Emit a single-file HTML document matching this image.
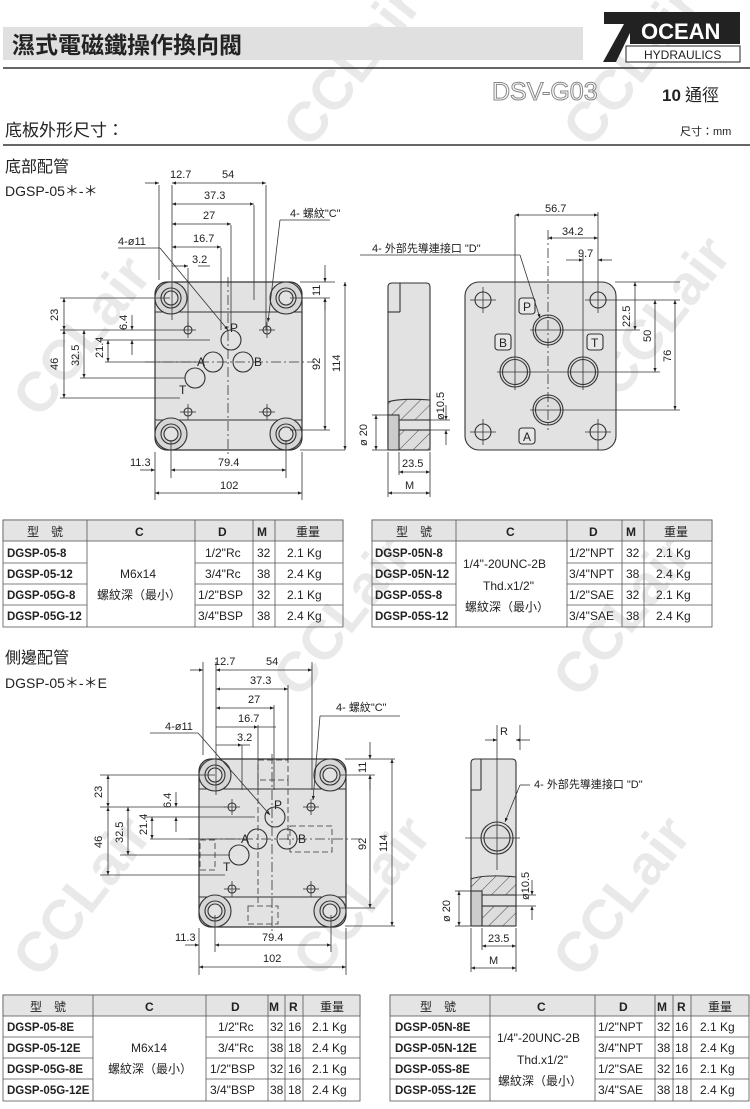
<!DOCTYPE html>
<html><head><meta charset="utf-8">
<style>
html,body{margin:0;padding:0;background:#fff;}
svg{display:block;}
text{font-family:"Liberation Sans","Noto Sans CJK TC",sans-serif;fill:#222;}
.t{font-size:12px;}
.d{font-size:11px;}
</style></head><body>
<svg width="750" height="1109" viewBox="0 0 750 1109" xmlns="http://www.w3.org/2000/svg">
<defs>
<marker id="ar" viewBox="0 0 10 10" refX="10" refY="5" markerWidth="7" markerHeight="5" orient="auto-start-reverse"><path d="M0,1 L10,5 L0,9 z" fill="#222"/></marker>
<pattern id="hat" width="10" height="10" patternUnits="userSpaceOnUse" patternTransform="rotate(45)"><rect width="10" height="10" fill="#ddd"/><line x1="0" y1="0" x2="0" y2="10" stroke="#444" stroke-width="1"/></pattern>
<g id="plate">
  <rect x="0" y="0" width="147" height="168" rx="12" fill="#e2e2e2" stroke="#333" stroke-width="1.2"/>
  <line x1="0" y1="30" x2="147" y2="30" stroke="#333"/>
  <line x1="0" y1="138" x2="147" y2="138" stroke="#333"/>
  <g fill="#d6d6d6" stroke="#333" stroke-width="1.1">
    <circle cx="16" cy="16" r="16"/><circle cx="131" cy="16" r="16"/><circle cx="16" cy="152" r="16"/><circle cx="131" cy="152" r="16"/>
    <circle cx="16" cy="16" r="10"/><circle cx="131" cy="16" r="10"/><circle cx="16" cy="152" r="10"/><circle cx="131" cy="152" r="10"/>
    <circle cx="16" cy="16" r="7" fill="#e2e2e2"/><circle cx="131" cy="16" r="7" fill="#e2e2e2"/><circle cx="16" cy="152" r="7" fill="#e2e2e2"/><circle cx="131" cy="152" r="7" fill="#e2e2e2"/>
  </g>
  <g fill="none" stroke="#333" stroke-width="1.1">
    <circle cx="76" cy="58" r="10"/><circle cx="58" cy="80" r="10"/><circle cx="88" cy="80" r="10"/><circle cx="40" cy="96" r="10"/>
    <circle cx="33" cy="48" r="4"/><circle cx="112" cy="48" r="4"/><circle cx="33" cy="130" r="4"/><circle cx="112" cy="130" r="4"/>
  </g>
  <g stroke="#333" stroke-width="0.8">
    <line x1="25" y1="48" x2="41" y2="48"/><line x1="33" y1="40" x2="33" y2="56"/>
    <line x1="104" y1="48" x2="120" y2="48"/><line x1="112" y1="40" x2="112" y2="56"/>
    <line x1="25" y1="130" x2="41" y2="130"/><line x1="33" y1="122" x2="33" y2="138"/>
    <line x1="104" y1="130" x2="120" y2="130"/><line x1="112" y1="122" x2="112" y2="138"/>
    <line x1="73" y1="-5" x2="73" y2="175" stroke-dasharray="10,3,2,3"/>
    <line x1="-10" y1="80" x2="160" y2="80" stroke-dasharray="10,3,2,3"/>
  </g>
  <text x="75" y="50" class="t">P</text><text x="42" y="84" class="t">A</text><text x="99" y="84" class="t">B</text><text x="24" y="112" class="t">T</text>
</g>
</defs>

<!-- watermarks -->
<g font-size="56" font-weight="bold" font-family="Liberation Sans,sans-serif">
<text transform="translate(40,420) rotate(-52)" style="fill:#e9e9e9">CCLair</text>
<text transform="translate(310,150) rotate(-52)" style="fill:#e9e9e9">CCLair</text>
<text transform="translate(590,150) rotate(-52)" style="fill:#e9e9e9">CCLair</text>
<text transform="translate(620,400) rotate(-52)" style="fill:#e9e9e9">CCLair</text>
<text transform="translate(300,700) rotate(-52)" style="fill:#e9e9e9">CCLair</text>
<text transform="translate(40,980) rotate(-52)" style="fill:#e9e9e9">CCLair</text>
<text transform="translate(580,700) rotate(-52)" style="fill:#e9e9e9">CCLair</text>
<text transform="translate(580,980) rotate(-52)" style="fill:#e9e9e9">CCLair</text>
<text transform="translate(320,980) rotate(-52)" style="fill:#e9e9e9">CCLair</text>
</g>

<!-- header -->
<rect x="3" y="27" width="580" height="33" fill="#e0e0e0"/>
<text x="12" y="53" font-size="23" font-weight="bold" style="font-family:'Noto Sans CJK TC',sans-serif">濕式電磁鐵操作換向閥</text>
<line x1="3" y1="68" x2="750" y2="68" stroke="#333" stroke-width="1.5"/>
<polygon points="604,12 640,12 616,62 603,62 624,24 604,24" fill="#222"/>
<rect x="630" y="12" width="110" height="32" fill="#222"/>
<text x="641" y="39" font-size="22" font-weight="bold" style="fill:#fff">OCEAN</text>
<rect x="626" y="46" width="114" height="16" fill="#fff" stroke="#222"/>
<text x="644" y="59" font-size="12">HYDRAULICS</text>
<text x="492" y="100" font-size="25" style="fill:#fff;stroke:#888;stroke-width:1">DSV-G03</text>
<text x="662" y="101" font-size="17" font-weight="bold">10</text>
<text x="685" y="101" font-size="17">通徑</text>
<text x="5" y="136" font-size="17">底板外形尺寸：</text>
<text x="680" y="135" font-size="11">尺寸：mm</text>
<line x1="3" y1="145" x2="750" y2="145" stroke="#333" stroke-width="1.5"/>
<text x="5" y="172" font-size="16">底部配管</text>
<text x="5" y="196" font-size="14">DGSP-05＊-＊</text>

<!-- drawing 1 -->
<use href="#plate" x="155" y="282"/>
<g stroke="#333" stroke-width="0.8" fill="none">
  <line x1="159" y1="185" x2="159" y2="280"/><line x1="172" y1="185" x2="172" y2="320"/>
  <line x1="266" y1="185" x2="266" y2="330"/><line x1="254" y1="205" x2="254" y2="300"/>
  <line x1="231" y1="225" x2="231" y2="330"/><line x1="221" y1="248" x2="221" y2="330"/><line x1="188" y1="268" x2="188" y2="330"/>
  <line x1="145" y1="183" x2="159" y2="183" marker-end="url(#ar)"/><line x1="172" y1="183" x2="266" y2="183" marker-start="url(#ar)" marker-end="url(#ar)"/>
  <line x1="172" y1="204" x2="254" y2="204" marker-start="url(#ar)" marker-end="url(#ar)"/>
  <line x1="172" y1="224" x2="231" y2="224" marker-start="url(#ar)" marker-end="url(#ar)"/>
  <line x1="172" y1="247" x2="221" y2="247" marker-start="url(#ar)" marker-end="url(#ar)"/>
  <line x1="172" y1="266" x2="188" y2="266" marker-end="url(#ar)"/><line x1="210" y1="266" x2="198" y2="266"/>
  <line x1="118" y1="248" x2="160" y2="248"/><line x1="160" y1="248" x2="228" y2="330" marker-end="url(#ar)"/>
  <line x1="280" y1="220" x2="330" y2="220"/><line x1="280" y1="220" x2="268" y2="322" marker-end="url(#ar)"/>
  <line x1="300" y1="282" x2="335" y2="282"/><line x1="300" y1="450" x2="345" y2="450"/><line x1="290" y1="298" x2="330" y2="298"/><line x1="290" y1="430" x2="330" y2="430"/>
  <line x1="325" y1="265" x2="325" y2="282" marker-end="url(#ar)"/><line x1="325" y1="310" x2="325" y2="298" marker-end="url(#ar)"/>
  <line x1="325" y1="298" x2="325" y2="430" marker-start="url(#ar)" marker-end="url(#ar)"/>
  <line x1="345" y1="282" x2="345" y2="450" marker-start="url(#ar)" marker-end="url(#ar)"/>
  <line x1="60" y1="298" x2="170" y2="298"/><line x1="60" y1="330" x2="180" y2="330"/><line x1="100" y1="340" x2="210" y2="340"/><line x1="105" y1="362" x2="200" y2="362"/><line x1="80" y1="378" x2="185" y2="378"/><line x1="60" y1="398" x2="180" y2="398"/>
  <line x1="64" y1="298" x2="64" y2="330" marker-start="url(#ar)" marker-end="url(#ar)"/>
  <line x1="64" y1="330" x2="64" y2="398" marker-start="url(#ar)" marker-end="url(#ar)"/>
  <line x1="84" y1="330" x2="84" y2="378" marker-start="url(#ar)" marker-end="url(#ar)"/>
  <line x1="108" y1="340" x2="108" y2="362" marker-start="url(#ar)" marker-end="url(#ar)"/>
  <line x1="132" y1="315" x2="132" y2="330" marker-end="url(#ar)"/><line x1="132" y1="355" x2="132" y2="340" marker-end="url(#ar)"/>
  <line x1="155" y1="452" x2="155" y2="500"/><line x1="302" y1="452" x2="302" y2="500"/><line x1="171" y1="440" x2="171" y2="478"/><line x1="286" y1="440" x2="286" y2="478"/>
  <line x1="140" y1="470" x2="155" y2="470" marker-end="url(#ar)"/><line x1="171" y1="470" x2="286" y2="470" marker-start="url(#ar)" marker-end="url(#ar)"/>
  <line x1="155" y1="493" x2="302" y2="493" marker-start="url(#ar)" marker-end="url(#ar)"/>
</g>
<text x="170" y="178" class="d">12.7</text><text x="222" y="178" class="d">54</text>
<text x="204" y="199" class="d">37.3</text><text x="203" y="219" class="d">27</text><text x="193" y="242" class="d">16.7</text><text x="192" y="263" class="d">3.2</text>
<text x="118" y="245" class="d">4-ø11</text><text x="290" y="217" class="d">4- 螺紋"C"</text>
<text transform="translate(320,296) rotate(-90)" class="d">11</text>
<text transform="translate(320,370) rotate(-90)" class="d">92</text>
<text transform="translate(340,372) rotate(-90)" class="d">114</text>
<text transform="translate(58,321) rotate(-90)" class="d">23</text>
<text transform="translate(58,370) rotate(-90)" class="d">46</text>
<text transform="translate(79,366) rotate(-90)" class="d">32.5</text>
<text transform="translate(103,358) rotate(-90)" class="d">21.4</text>
<text transform="translate(127,330) rotate(-90)" class="d">6.4</text>
<text x="130" y="466" class="d">11.3</text><text x="218" y="466" class="d">79.4</text><text x="220" y="489" class="d">102</text>

<!-- side view 1 -->
<g stroke="#333" stroke-width="1.1">
  <path d="M392,283 L426,283 Q430,283 430,287 L430,446 Q430,450 426,450 L392,450 Q388,450 388,446 L388,287 Q388,283 392,283 Z" fill="#e2e2e2"/>
  <line x1="400" y1="283" x2="400" y2="312"/><line x1="388" y1="312" x2="400" y2="312"/>
  <path d="M388,402 Q400,398 430,400 L430,420 L399,420 L399,450 L388,450 Z" fill="url(#hat)"/>
  <rect x="399" y="430" width="31" height="20" fill="url(#hat)"/>
  <rect x="399" y="420" width="31" height="10" fill="#e2e2e2"/>
  <rect x="388" y="415" width="11" height="35" fill="#ccc"/>
</g>
<g stroke="#333" stroke-width="0.8">
  <line x1="372" y1="415" x2="388" y2="415"/><line x1="372" y1="450" x2="388" y2="450"/>
  <line x1="376" y1="415" x2="376" y2="450" marker-start="url(#ar)" marker-end="url(#ar)"/>
  <line x1="430" y1="420" x2="450" y2="420"/><line x1="430" y1="430" x2="450" y2="430"/>
  <line x1="446" y1="405" x2="446" y2="420" marker-end="url(#ar)"/><line x1="446" y1="445" x2="446" y2="430" marker-end="url(#ar)"/>
  <line x1="399" y1="452" x2="399" y2="475"/><line x1="388" y1="452" x2="388" y2="497"/><line x1="430" y1="452" x2="430" y2="497"/>
  <line x1="399" y1="472" x2="430" y2="472" marker-start="url(#ar)" marker-end="url(#ar)"/>
  <line x1="388" y1="493" x2="430" y2="493" marker-start="url(#ar)" marker-end="url(#ar)"/>
</g>
<text transform="translate(367,446) rotate(-90)" class="d">ø 20</text>
<text transform="translate(444,420) rotate(-90)" class="d">ø10.5</text>
<text x="402" y="467" class="d">23.5</text><text x="405" y="489" class="d">M</text>

<!-- right plate 1 -->
<g stroke="#333" stroke-width="1.1">
  <rect x="465" y="282" width="151" height="168" rx="14" fill="#e2e2e2"/>
  <g fill="#e2e2e2"><circle cx="483" cy="300" r="8"/><circle cx="598" cy="300" r="8"/><circle cx="483" cy="432" r="8"/><circle cx="598" cy="432" r="8"/></g>
  <g fill="#ddd"><circle cx="548" cy="330" r="15"/><circle cx="515" cy="372" r="15"/><circle cx="583" cy="372" r="15"/><circle cx="548" cy="410" r="15"/></g>
  <g fill="none"><circle cx="548" cy="330" r="12.5"/><circle cx="515" cy="372" r="12.5"/><circle cx="583" cy="372" r="12.5"/><circle cx="548" cy="410" r="12.5"/></g>
  <g fill="#e8e8e8"><rect x="519" y="298" width="16" height="16" rx="3"/><rect x="495" y="334" width="16" height="16" rx="3"/><rect x="587" y="334" width="16" height="16" rx="3"/><rect x="519" y="428" width="16" height="16" rx="3"/></g>
</g>
<text x="523" y="311" class="t">P</text><text x="499" y="347" class="t">B</text><text x="591" y="347" class="t">T</text><text x="523" y="441" class="t">A</text>
<g stroke="#333" stroke-width="0.8" fill="none">
  <line x1="470" y1="300" x2="496" y2="300"/><line x1="483" y1="287" x2="483" y2="313"/>
  <line x1="585" y1="300" x2="615" y2="300"/><line x1="598" y1="265" x2="598" y2="313"/>
  <line x1="470" y1="432" x2="496" y2="432"/><line x1="483" y1="419" x2="483" y2="445"/>
  <line x1="585" y1="432" x2="611" y2="432"/><line x1="598" y1="419" x2="598" y2="450"/>
  <line x1="530" y1="330" x2="640" y2="330"/><line x1="497" y1="372" x2="660" y2="372"/><line x1="530" y1="410" x2="680" y2="410"/>
  <line x1="548" y1="230" x2="548" y2="430" stroke-dasharray="10,3,2,3"/>
  <line x1="515" y1="215" x2="515" y2="390"/><line x1="583" y1="255" x2="583" y2="390"/>
  <line x1="515" y1="215" x2="598" y2="215" marker-start="url(#ar)" marker-end="url(#ar)"/>
  <line x1="548" y1="238" x2="598" y2="238" marker-start="url(#ar)" marker-end="url(#ar)"/>
  <line x1="566" y1="260" x2="583" y2="260" marker-end="url(#ar)"/><line x1="612" y1="260" x2="598" y2="260" marker-end="url(#ar)"/>
  <line x1="598" y1="212" x2="598" y2="265"/>
  <line x1="615" y1="282" x2="680" y2="282"/>
  <line x1="635" y1="282" x2="635" y2="330" marker-start="url(#ar)" marker-end="url(#ar)"/>
  <line x1="655" y1="300" x2="655" y2="372" marker-start="url(#ar)" marker-end="url(#ar)"/>
  <line x1="615" y1="300" x2="680" y2="300"/>
  <line x1="675" y1="300" x2="675" y2="410" marker-start="url(#ar)" marker-end="url(#ar)"/>
  <line x1="360" y1="255" x2="520" y2="255"/><line x1="520" y1="255" x2="540" y2="318" marker-end="url(#ar)"/>
</g>
<text x="545" y="212" class="d">56.7</text><text x="562" y="235" class="d">34.2</text><text x="578" y="257" class="d">9.7</text>
<text x="372" y="252" class="d">4- 外部先導連接口 "D"</text>
<text transform="translate(630,327) rotate(-90)" class="d">22.5</text>
<text transform="translate(651,342) rotate(-90)" class="d">50</text>
<text transform="translate(671,362) rotate(-90)" class="d">76</text>

<!-- table 1 -->
<g font-size="12">
<g stroke="#555" stroke-width="0.8" fill="none">
  <rect x="3" y="520" width="340" height="107"/>
  <rect x="3" y="520" width="340" height="21" fill="#e4e4e4"/>
  <line x1="87" y1="520" x2="87" y2="627"/><line x1="195" y1="520" x2="195" y2="627"/><line x1="253" y1="520" x2="253" y2="627"/><line x1="275" y1="520" x2="275" y2="627"/>
  <line x1="3" y1="563" x2="87" y2="563"/><line x1="3" y1="584" x2="87" y2="584"/><line x1="3" y1="605" x2="87" y2="605"/>
  <line x1="195" y1="563" x2="343" y2="563"/><line x1="195" y1="584" x2="343" y2="584"/><line x1="195" y1="605" x2="343" y2="605"/>
  <rect x="372" y="520" width="340" height="107"/>
  <rect x="372" y="520" width="340" height="21" fill="#e4e4e4"/>
  <line x1="456" y1="520" x2="456" y2="627"/><line x1="567" y1="520" x2="567" y2="627"/><line x1="622" y1="520" x2="622" y2="627"/><line x1="644" y1="520" x2="644" y2="627"/>
  <line x1="372" y1="563" x2="456" y2="563"/><line x1="372" y1="584" x2="456" y2="584"/><line x1="372" y1="605" x2="456" y2="605"/>
  <line x1="567" y1="563" x2="712" y2="563"/><line x1="567" y1="584" x2="712" y2="584"/><line x1="567" y1="605" x2="712" y2="605"/>
</g>
<text x="27" y="536">型　號</text><text x="135" y="536" font-weight="bold">C</text><text x="218" y="536" font-weight="bold">D</text><text x="257" y="536" font-weight="bold">M</text><text x="296" y="536">重量</text>
<g font-weight="bold" font-size="11.5"><text x="7" y="557">DGSP-05-8</text><text x="7" y="578">DGSP-05-12</text><text x="7" y="599">DGSP-05G-8</text><text x="7" y="620">DGSP-05G-12</text></g>
<text x="120" y="578">M6x14</text><text x="97" y="599">螺紋深（最小）</text>
<g><text x="205" y="557">1/2"Rc</text><text x="205" y="578">3/4"Rc</text><text x="198" y="599">1/2"BSP</text><text x="198" y="620">3/4"BSP</text>
<text x="257" y="557">32</text><text x="257" y="578">38</text><text x="257" y="599">32</text><text x="257" y="620">38</text>
<text x="287" y="557">2.1 Kg</text><text x="287" y="578">2.4 Kg</text><text x="287" y="599">2.1 Kg</text><text x="287" y="620">2.4 Kg</text></g>
<text x="396" y="536">型　號</text><text x="506" y="536" font-weight="bold">C</text><text x="589" y="536" font-weight="bold">D</text><text x="626" y="536" font-weight="bold">M</text><text x="664" y="536">重量</text>
<g font-weight="bold" font-size="11.5"><text x="375" y="557">DGSP-05N-8</text><text x="375" y="578">DGSP-05N-12</text><text x="375" y="599">DGSP-05S-8</text><text x="375" y="620">DGSP-05S-12</text></g>
<text x="463" y="568">1/4"-20UNC-2B</text><text x="483" y="590">Thd.x1/2"</text><text x="465" y="611">螺紋深（最小）</text>
<text x="569" y="557">1/2"NPT</text><text x="569" y="578">3/4"NPT</text><text x="569" y="599">1/2"SAE</text><text x="569" y="620">3/4"SAE</text>
<text x="626" y="557">32</text><text x="626" y="578">38</text><text x="626" y="599">32</text><text x="626" y="620">38</text>
<text x="656" y="557">2.1 Kg</text><text x="656" y="578">2.4 Kg</text><text x="656" y="599">2.1 Kg</text><text x="656" y="620">2.4 Kg</text>
</g>

<!-- section 2 -->
<text x="5" y="663" font-size="16">側邊配管</text>
<text x="5" y="688" font-size="14">DGSP-05＊-＊E</text>
<use href="#plate" x="199" y="759"/>
<g stroke="#333" stroke-width="0.8" fill="none" stroke-dasharray="6,3">
  <rect x="258" y="760" width="30" height="20"/><rect x="248" y="906" width="30" height="18"/>
  <rect x="200" y="840" width="15" height="30"/><rect x="290" y="826" width="42" height="26"/>
  <line x1="258" y1="780" x2="258" y2="906"/><line x1="288" y1="780" x2="288" y2="840"/>
</g>
<g stroke="#333" stroke-width="0.8" fill="none">
  <line x1="203" y1="662" x2="203" y2="755"/><line x1="216" y1="662" x2="216" y2="795"/>
  <line x1="312" y1="662" x2="312" y2="790"/><line x1="288" y1="685" x2="288" y2="760"/>
  <line x1="274" y1="705" x2="274" y2="790"/><line x1="258" y1="725" x2="258" y2="790"/><line x1="242" y1="745" x2="242" y2="790"/>
  <line x1="190" y1="670" x2="203" y2="670" marker-end="url(#ar)"/><line x1="216" y1="670" x2="312" y2="670" marker-start="url(#ar)" marker-end="url(#ar)"/>
  <line x1="216" y1="689" x2="288" y2="689" marker-start="url(#ar)" marker-end="url(#ar)"/>
  <line x1="216" y1="708" x2="274" y2="708" marker-start="url(#ar)" marker-end="url(#ar)"/>
  <line x1="216" y1="727" x2="258" y2="727" marker-end="url(#ar)"/><line x1="276" y1="727" x2="258" y2="727"/>
  <line x1="216" y1="745" x2="242" y2="745" marker-end="url(#ar)"/><line x1="250" y1="745" x2="242" y2="745"/>
  <line x1="150" y1="733" x2="198" y2="733"/><line x1="198" y1="733" x2="270" y2="815" marker-end="url(#ar)"/>
  <line x1="320" y1="716" x2="400" y2="716"/><line x1="320" y1="716" x2="313" y2="800" marker-end="url(#ar)"/>
  <line x1="345" y1="759" x2="395" y2="759"/><line x1="345" y1="926" x2="395" y2="926"/><line x1="340" y1="775" x2="375" y2="775"/><line x1="340" y1="908" x2="375" y2="908"/>
  <line x1="370" y1="742" x2="370" y2="759" marker-end="url(#ar)"/><line x1="370" y1="790" x2="370" y2="775" marker-end="url(#ar)"/>
  <line x1="370" y1="775" x2="370" y2="908" marker-start="url(#ar)" marker-end="url(#ar)"/>
  <line x1="392" y1="759" x2="392" y2="926" marker-start="url(#ar)" marker-end="url(#ar)"/>
  <line x1="100" y1="775" x2="215" y2="775"/><line x1="100" y1="807" x2="225" y2="807"/><line x1="145" y1="817" x2="255" y2="817"/><line x1="150" y1="839" x2="245" y2="839"/><line x1="120" y1="855" x2="230" y2="855"/><line x1="100" y1="875" x2="225" y2="875"/>
  <line x1="108" y1="775" x2="108" y2="807" marker-start="url(#ar)" marker-end="url(#ar)"/>
  <line x1="108" y1="807" x2="108" y2="875" marker-start="url(#ar)" marker-end="url(#ar)"/>
  <line x1="128" y1="807" x2="128" y2="855" marker-start="url(#ar)" marker-end="url(#ar)"/>
  <line x1="152" y1="817" x2="152" y2="839" marker-start="url(#ar)" marker-end="url(#ar)"/>
  <line x1="176" y1="792" x2="176" y2="807" marker-end="url(#ar)"/><line x1="176" y1="832" x2="176" y2="817" marker-end="url(#ar)"/>
  <line x1="199" y1="928" x2="199" y2="975"/><line x1="346" y1="928" x2="346" y2="975"/><line x1="215" y1="915" x2="215" y2="952"/><line x1="331" y1="915" x2="331" y2="952"/>
  <line x1="185" y1="945" x2="199" y2="945" marker-end="url(#ar)"/><line x1="215" y1="945" x2="331" y2="945" marker-start="url(#ar)" marker-end="url(#ar)"/>
  <line x1="199" y1="967" x2="346" y2="967" marker-start="url(#ar)" marker-end="url(#ar)"/>
</g>
<text x="214" y="665" class="d">12.7</text><text x="266" y="665" class="d">54</text>
<text x="250" y="684" class="d">37.3</text><text x="248" y="703" class="d">27</text><text x="238" y="722" class="d">16.7</text><text x="237" y="741" class="d">3.2</text>
<text x="165" y="730" class="d">4-ø11</text><text x="336" y="711" class="d">4- 螺紋"C"</text>
<text transform="translate(366,773) rotate(-90)" class="d">11</text>
<text transform="translate(366,850) rotate(-90)" class="d">92</text>
<text transform="translate(387,852) rotate(-90)" class="d">114</text>
<text transform="translate(102,798) rotate(-90)" class="d">23</text>
<text transform="translate(102,848) rotate(-90)" class="d">46</text>
<text transform="translate(123,843) rotate(-90)" class="d">32.5</text>
<text transform="translate(147,835) rotate(-90)" class="d">21.4</text>
<text transform="translate(171,808) rotate(-90)" class="d">6.4</text>
<text x="175" y="941" class="d">11.3</text><text x="262" y="941" class="d">79.4</text><text x="263" y="962" class="d">102</text>

<!-- side view 2 -->
<g stroke="#333" stroke-width="1.1">
  <path d="M475,759 L512,759 Q516,759 516,763 L516,922 Q516,926 512,926 L475,926 Q471,926 471,922 L471,763 Q471,759 475,759 Z" fill="#e2e2e2"/>
  <line x1="481" y1="759" x2="481" y2="790"/><line x1="471" y1="790" x2="481" y2="790"/>
  <circle cx="497" cy="838" r="16" fill="#ddd"/><circle cx="497" cy="838" r="13" fill="none"/>
  <path d="M471,879 Q485,874 516,877 L516,895 L482,895 L482,926 L471,926 Z" fill="url(#hat)"/>
  <rect x="482" y="906" width="34" height="20" fill="url(#hat)"/>
  <rect x="482" y="895" width="34" height="11" fill="#e2e2e2"/>
  <rect x="471" y="891" width="11" height="35" fill="#ccc"/>
</g>
<g stroke="#333" stroke-width="0.8" fill="none">
  <line x1="497" y1="725" x2="497" y2="870"/><line x1="465" y1="838" x2="520" y2="838"/>
  <line x1="520" y1="725" x2="520" y2="750"/>
  <line x1="485" y1="740" x2="497" y2="740" marker-end="url(#ar)"/><line x1="530" y1="740" x2="516" y2="740" marker-end="url(#ar)"/>
  <line x1="530" y1="785" x2="520" y2="785"/><line x1="520" y1="785" x2="505" y2="822" marker-end="url(#ar)"/>
  <line x1="455" y1="891" x2="471" y2="891"/><line x1="455" y1="926" x2="471" y2="926"/>
  <line x1="459" y1="891" x2="459" y2="926" marker-start="url(#ar)" marker-end="url(#ar)"/>
  <line x1="516" y1="895" x2="536" y2="895"/><line x1="516" y1="906" x2="536" y2="906"/>
  <line x1="532" y1="880" x2="532" y2="895" marker-end="url(#ar)"/><line x1="532" y1="920" x2="532" y2="906" marker-end="url(#ar)"/>
  <line x1="482" y1="928" x2="482" y2="950"/><line x1="471" y1="928" x2="471" y2="972"/><line x1="516" y1="928" x2="516" y2="972"/>
  <line x1="482" y1="946" x2="516" y2="946" marker-start="url(#ar)" marker-end="url(#ar)"/>
  <line x1="471" y1="968" x2="516" y2="968" marker-start="url(#ar)" marker-end="url(#ar)"/>
</g>
<text x="500" y="735" class="d">R</text>
<text x="534" y="788" class="d">4- 外部先導連接口 "D"</text>
<text transform="translate(450,922) rotate(-90)" class="d">ø 20</text>
<text transform="translate(529,900) rotate(-90)" class="d">ø10.5</text>
<text x="488" y="942" class="d">23.5</text><text x="489" y="964" class="d">M</text>

<!-- tables 2 -->
<g font-size="12">
<g stroke="#555" stroke-width="0.8" fill="none">
  <rect x="3" y="995" width="357" height="106"/>
  <rect x="3" y="995" width="357" height="21" fill="#e4e4e4"/>
  <line x1="93" y1="995" x2="93" y2="1101"/><line x1="206" y1="995" x2="206" y2="1101"/><line x1="268" y1="995" x2="268" y2="1101"/><line x1="285" y1="995" x2="285" y2="1101"/><line x1="303" y1="995" x2="303" y2="1101"/>
  <line x1="3" y1="1037" x2="93" y2="1037"/><line x1="3" y1="1058" x2="93" y2="1058"/><line x1="3" y1="1079" x2="93" y2="1079"/>
  <line x1="206" y1="1037" x2="360" y2="1037"/><line x1="206" y1="1058" x2="360" y2="1058"/><line x1="206" y1="1079" x2="360" y2="1079"/>
  <rect x="390" y="995" width="359" height="106"/>
  <rect x="390" y="995" width="359" height="21" fill="#e4e4e4"/>
  <line x1="490" y1="995" x2="490" y2="1101"/><line x1="595" y1="995" x2="595" y2="1101"/><line x1="655" y1="995" x2="655" y2="1101"/><line x1="673" y1="995" x2="673" y2="1101"/><line x1="691" y1="995" x2="691" y2="1101"/>
  <line x1="390" y1="1037" x2="490" y2="1037"/><line x1="390" y1="1058" x2="490" y2="1058"/><line x1="390" y1="1079" x2="490" y2="1079"/>
  <line x1="595" y1="1037" x2="749" y2="1037"/><line x1="595" y1="1058" x2="749" y2="1058"/><line x1="595" y1="1079" x2="749" y2="1079"/>
</g>
<text x="30" y="1011">型　號</text><text x="145" y="1011" font-weight="bold">C</text><text x="231" y="1011" font-weight="bold">D</text><text x="269" y="1011" font-weight="bold">M</text><text x="289" y="1011" font-weight="bold">R</text><text x="320" y="1011">重量</text>
<g font-weight="bold" font-size="11.5"><text x="7" y="1031">DGSP-05-8E</text><text x="7" y="1052">DGSP-05-12E</text><text x="7" y="1073">DGSP-05G-8E</text><text x="7" y="1094">DGSP-05G-12E</text></g>
<text x="131" y="1052">M6x14</text><text x="108" y="1073">螺紋深（最小）</text>
<text x="218" y="1031">1/2"Rc</text><text x="218" y="1052">3/4"Rc</text><text x="210" y="1073">1/2"BSP</text><text x="210" y="1094">3/4"BSP</text>
<text x="270" y="1031">32</text><text x="270" y="1052">38</text><text x="270" y="1073">32</text><text x="270" y="1094">38</text>
<text x="288" y="1031">16</text><text x="288" y="1052">18</text><text x="288" y="1073">16</text><text x="288" y="1094">18</text>
<text x="312" y="1031">2.1 Kg</text><text x="312" y="1052">2.4 Kg</text><text x="312" y="1073">2.1 Kg</text><text x="312" y="1094">2.4 Kg</text>
<text x="420" y="1011">型　號</text><text x="537" y="1011" font-weight="bold">C</text><text x="619" y="1011" font-weight="bold">D</text><text x="657" y="1011" font-weight="bold">M</text><text x="677" y="1011" font-weight="bold">R</text><text x="708" y="1011">重量</text>
<g font-weight="bold" font-size="11.5"><text x="395" y="1031">DGSP-05N-8E</text><text x="395" y="1052">DGSP-05N-12E</text><text x="395" y="1073">DGSP-05S-8E</text><text x="395" y="1094">DGSP-05S-12E</text></g>
<text x="497" y="1042">1/4"-20UNC-2B</text><text x="517" y="1064">Thd.x1/2"</text><text x="498" y="1085">螺紋深（最小）</text>
<text x="598" y="1031">1/2"NPT</text><text x="598" y="1052">3/4"NPT</text><text x="598" y="1073">1/2"SAE</text><text x="598" y="1094">3/4"SAE</text>
<text x="657" y="1031">32</text><text x="657" y="1052">38</text><text x="657" y="1073">32</text><text x="657" y="1094">38</text>
<text x="675" y="1031">16</text><text x="675" y="1052">18</text><text x="675" y="1073">16</text><text x="675" y="1094">18</text>
<text x="700" y="1031">2.1 Kg</text><text x="700" y="1052">2.4 Kg</text><text x="700" y="1073">2.1 Kg</text><text x="700" y="1094">2.4 Kg</text>
</g>
</svg>
</body></html>
